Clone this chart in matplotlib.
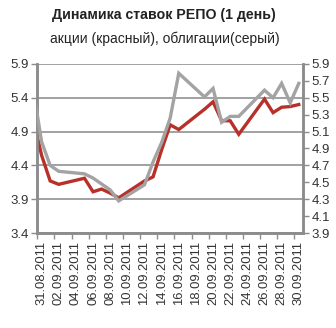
import matplotlib
matplotlib.use("Agg")
import matplotlib.pyplot as plt
import numpy as np
import pandas as pd
from matplotlib import font_manager as fm

dates = ["30.08.2011", "31.08.2011", "01.09.2011", "02.09.2011", "05.09.2011", "06.09.2011",
         "07.09.2011", "08.09.2011", "09.09.2011", "12.09.2011", "13.09.2011", "14.09.2011",
         "15.09.2011", "16.09.2011", "19.09.2011", "20.09.2011", "21.09.2011", "22.09.2011",
         "23.09.2011", "26.09.2011", "27.09.2011", "28.09.2011", "29.09.2011", "30.09.2011"]
stocks = [5.09, 4.55, 4.17, 4.12, 4.21, 4.01, 4.05, 3.99, 3.92, 4.17, 4.23, 4.63,
          5.00, 4.93, 5.23, 5.34, 5.06, 5.06, 4.86, 5.38, 5.18, 5.26, 5.27, 5.30]
bonds = [5.62, 4.98, 4.70, 4.63, 4.60, 4.55, 4.48, 4.41, 4.28, 4.47, 4.74, 4.97,
         5.26, 5.79, 5.51, 5.61, 5.21, 5.28, 5.28, 5.59, 5.50, 5.67, 5.44, 5.67]
left_ticks = [3.4, 3.9, 4.4, 4.9, 5.4, 5.9]
right_ticks = [3.9, 4.1, 4.3, 4.5, 4.7, 4.9, 5.1, 5.3, 5.5, 5.7, 5.9]
axis_start = "31.08.2011"
axis_end = "30.09.2011"
title = "Динамика ставок РЕПО (1 день)"
subtitle = "акции (красный), облигации(серый)"

names = {f.name for f in fm.fontManager.ttflist}
narrow = "Liberation Sans Narrow" if "Liberation Sans Narrow" in names else "Liberation Sans"

d0 = pd.to_datetime(axis_start, format="%d.%m.%Y")
d1 = pd.to_datetime(axis_end, format="%d.%m.%Y")
x = np.array([(pd.to_datetime(d, format="%d.%m.%Y") - d0).days for d in dates], dtype=float)
ndays = (d1 - d0).days

fig = plt.figure(figsize=(3.36, 3.28), dpi=100)
ax = fig.add_axes([0.111, 0.2896, 0.791, 0.5154])
ax2 = ax.twinx()

RED = "#B8302A"
GRAY = "#A3A3A3"
AXC = "#8C8C8C"

ax.set_xlim(-0.5, ndays + 0.5)
ax.set_ylim(left_ticks[0], left_ticks[-1])
ax2.set_ylim(right_ticks[0], right_ticks[-1])

ax.plot(x, stocks, color=RED, lw=2.4, solid_joinstyle="miter", zorder=3)
ax2.plot(x, bonds, color=GRAY, lw=2.4, solid_joinstyle="miter", zorder=3)

for v in left_ticks:
    ax.axhline(v, color="#9A9A9A", lw=1.3, zorder=1)

ax.set_yticks(left_ticks)
ax.set_yticklabels([f"{v:.1f}" for v in left_ticks])
ax2.set_yticks(right_ticks)
ax2.set_yticklabels([f"{v:.1f}" for v in right_ticks])

# tick marks at bin boundaries, labels centred in bins
ax.set_xticks(np.arange(-0.5, ndays, 2))
ax.set_xticklabels([])
lab_pos = np.arange(0, ndays + 1, 2)
ax.set_xticks(lab_pos, minor=True)
ax.set_xticklabels([(d0 + pd.Timedelta(days=int(p))).strftime("%d.%m.%Y") for p in lab_pos],
                   minor=True, rotation=90, fontsize=9.4, family="Liberation Sans",
                   color="#333333")
ax.tick_params(axis="x", which="minor", length=0, pad=6)
ax.tick_params(axis="x", which="major", length=4, width=1, color=AXC, direction="out")

for a in (ax, ax2):
    a.spines["top"].set_visible(False)
    for s in ("left", "right", "bottom"):
        a.spines[s].set_color(AXC)
        a.spines[s].set_linewidth(1.8)
ax.tick_params(axis="y", length=4, width=1, color=AXC, pad=2, labelsize=9.5, labelcolor="#333333")
ax2.tick_params(axis="y", length=4, width=1, color=AXC, pad=2, labelsize=9.5, labelcolor="#333333")
for lbl in ax.get_yticklabels() + ax2.get_yticklabels():
    lbl.set_family(narrow)

fig.text(0.487, 0.953, title, ha="center", va="center", fontsize=10.2, fontweight="bold",
         family=narrow, color="#222222")
fig.text(0.49, 0.882, subtitle, ha="center", va="center", fontsize=10, family=narrow,
         color="#222222")

fig.savefig("out.png", dpi=100)
